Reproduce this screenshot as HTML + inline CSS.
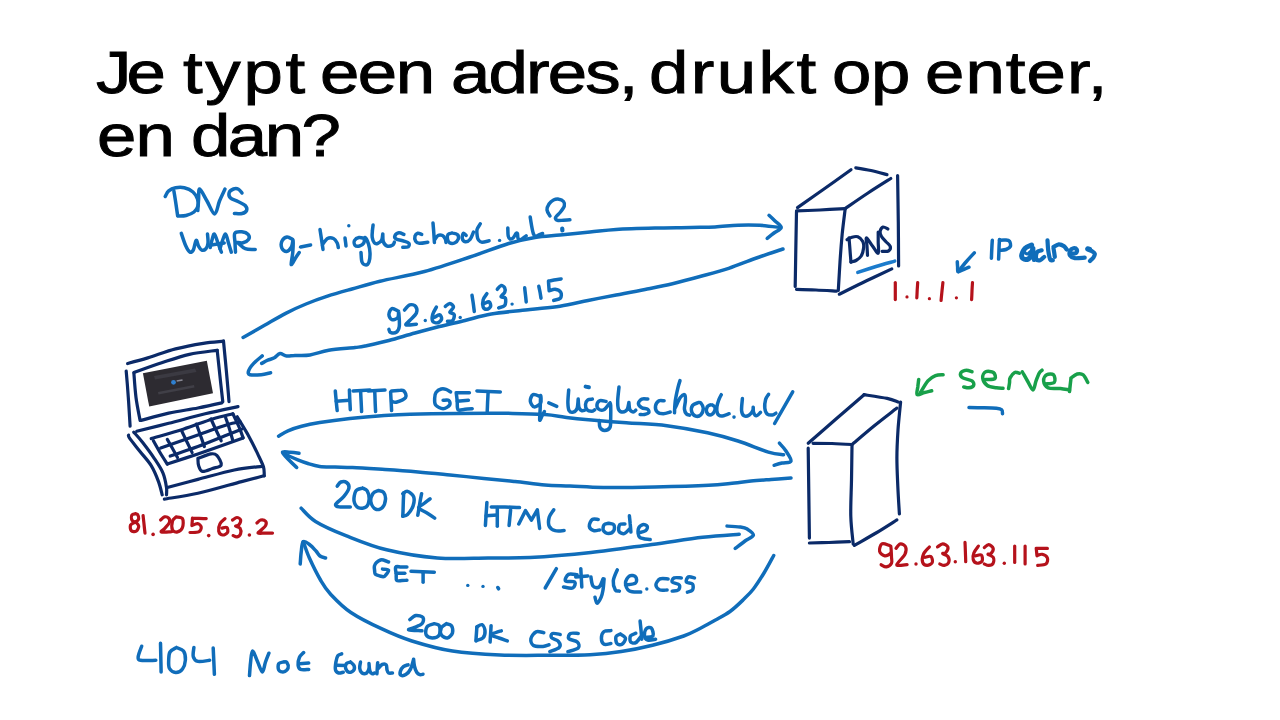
<!DOCTYPE html>
<html><head><meta charset="utf-8"><style>
html,body{margin:0;padding:0;background:#fff;}
#s{position:relative;width:1280px;height:720px;overflow:hidden;background:#fff;}
.w{position:absolute;font-family:"Liberation Sans",sans-serif;font-weight:normal;font-size:59px;line-height:59px;white-space:nowrap;color:#000;-webkit-text-stroke:0.9px #000;transform:scaleX(1.2);transform-origin:0 0;}
svg{position:absolute;left:0;top:0;}
.b{fill:none;stroke:#106dba;stroke-width:3.5;stroke-linecap:round;stroke-linejoin:round;}
.n{fill:none;stroke:#0b2a68;stroke-width:3.2;stroke-linecap:round;stroke-linejoin:round;}
.r{fill:none;stroke:#b5121b;stroke-width:3.2;stroke-linecap:round;stroke-linejoin:round;}
.g{fill:none;stroke:#18a04a;stroke-width:3.5;stroke-linecap:round;stroke-linejoin:round;}
</style></head><body><div id="s">
<span class="w" style="left:95.8px;top:44.0px;letter-spacing:-4.00px">Je</span>
<span class="w" style="left:182.5px;top:44.0px;letter-spacing:2.22px">typt</span>
<span class="w" style="left:320.1px;top:44.0px;letter-spacing:-1.29px">een</span>
<span class="w" style="left:450.6px;top:44.0px;letter-spacing:-1.57px">adres,</span>
<span class="w" style="left:648.6px;top:44.0px;letter-spacing:2.02px">drukt</span>
<span class="w" style="left:831.6px;top:44.0px;letter-spacing:-0.33px">op</span>
<span class="w" style="left:925.1px;top:44.0px;letter-spacing:0.88px">enter,</span>
<span class="w" style="left:97.1px;top:106.9px;letter-spacing:-0.83px">en</span>
<span class="w" style="left:190.6px;top:106.9px;letter-spacing:-2.11px">dan?</span>
<svg width="1280" height="720" viewBox="0 0 1280 720">
<path class="b" d="M165.2,196.5C165.8,195.6 167.0,192.3 168.7,190.9C170.4,189.5 173.0,188.3 175.6,187.8C178.2,187.3 181.4,187.1 184.3,187.8C187.2,188.5 190.8,190.1 193.0,192.0C195.2,193.9 196.7,196.7 197.5,199.0C198.3,201.3 198.6,203.8 198.0,206.0C197.4,208.2 196.0,210.4 194.0,212.0C192.0,213.6 188.7,214.8 186.0,215.5C183.3,216.2 179.3,215.9 178.0,216.0"/>
<path class="b" d="M173.9,190.9C174.2,192.9 175.2,198.9 175.8,203.0C176.4,207.1 177.3,213.4 177.6,215.5"/>
<path class="b" d="M197.8,210.6C197.9,208.7 198.3,202.6 198.6,199.0C198.9,195.4 198.3,188.7 199.7,189.0C201.1,189.3 204.5,196.8 207.0,201.0C209.5,205.2 212.6,214.0 214.7,214.0C216.8,214.0 217.8,205.2 219.5,201.0C221.2,196.8 224.1,191.0 225.0,189.0"/>
<path class="b" d="M242.0,193.0C241.4,192.4 239.9,189.9 238.5,189.2C237.1,188.5 235.1,188.4 233.5,189.0C231.9,189.6 229.7,191.0 229.2,192.5C228.7,194.0 229.0,196.5 230.5,198.0C232.0,199.5 235.6,200.2 238.0,201.5C240.4,202.8 243.8,204.0 245.2,205.5C246.6,207.0 247.1,209.2 246.6,210.5C246.1,211.8 244.0,213.0 242.0,213.5C240.0,214.0 235.7,213.4 234.4,213.4"/>
<path class="b" d="M181.3,233.3C182.0,235.3 184.1,242.1 185.5,245.2C186.9,248.3 188.5,251.2 189.8,252.0C191.1,252.8 192.2,251.9 193.3,250.0C194.4,248.1 195.2,241.0 196.1,240.3C197.0,239.6 197.6,244.4 198.5,246.0C199.4,247.6 200.5,249.7 201.7,250.1C202.9,250.5 204.8,249.9 205.9,248.7C207.0,247.5 207.7,245.5 208.0,243.1C208.3,240.7 207.6,235.5 207.5,234.0"/>
<path class="b" d="M210.2,247.5C210.5,246.2 211.3,242.2 212.0,240.0C212.7,237.8 213.4,233.5 214.4,234.0C215.4,234.5 216.8,240.0 218.0,243.0C219.2,246.0 220.8,250.7 221.4,252.2"/>
<path class="b" d="M209.5,245.2 L224.2,243.1"/>
<path class="b" d="M220.0,248.7C220.4,247.3 221.6,242.9 222.5,240.5C223.4,238.1 224.6,233.6 225.6,234.0C226.6,234.4 227.6,240.0 228.5,243.0C229.4,246.0 230.8,250.7 231.3,252.2"/>
<path class="b" d="M235.5,252.2C235.4,250.6 235.1,245.7 235.0,242.5C234.9,239.3 233.7,235.1 234.8,233.3C235.9,231.5 239.6,231.6 241.8,231.8C244.1,232.0 247.2,233.4 248.3,234.7C249.4,236.0 249.4,238.2 248.5,239.5C247.6,240.8 244.9,242.3 243.0,242.8C241.1,243.3 238.0,242.5 237.0,242.4"/>
<path class="b" d="M238.3,243.1C239.5,244.0 242.5,247.6 245.3,248.7C248.1,249.8 253.5,249.3 255.2,249.4"/>
<path class="b" d="M292.5,239.4C291.6,239.0 288.8,236.7 287.0,237.0C285.2,237.3 282.9,239.2 282.0,241.0C281.1,242.8 281.1,246.2 281.8,248.0C282.6,249.8 284.9,251.7 286.5,251.5C288.1,251.3 290.4,248.9 291.5,247.0C292.6,245.1 292.8,239.2 293.0,240.0C293.2,240.8 293.1,247.9 292.8,252.0C292.5,256.1 290.8,263.5 291.2,264.5C291.6,265.5 294.2,260.0 295.5,258.0C296.8,256.0 298.6,253.4 299.2,252.5"/>
<path class="b" d="M300.6,247.0 L310.6,245.0"/>
<path class="b" d="M320.0,229.4C320.3,231.2 321.1,236.7 321.6,240.0C322.1,243.3 322.8,247.8 323.0,249.4M322.2,245.0C323.1,243.9 325.6,239.6 327.5,238.5C329.4,237.4 331.9,237.8 333.5,238.5C335.1,239.2 336.4,241.5 337.2,243.0C338.0,244.5 338.1,246.8 338.3,247.5"/>
<path class="b" d="M345.0,238.0C345.1,238.8 345.4,241.2 345.6,242.5C345.8,243.8 345.9,245.4 346.0,246.0"/>
<circle cx="348.8" cy="225.8" r="1.7" fill="#106dba"/>
<path class="b" d="M364.5,238.5C363.6,238.3 360.7,237.2 359.0,237.5C357.3,237.8 355.2,239.2 354.5,240.5C353.8,241.8 354.2,244.4 355.0,245.3C355.8,246.2 358.0,246.4 359.5,246.0C361.0,245.6 362.9,244.4 363.8,243.0C364.7,241.6 364.2,237.3 365.0,237.5C365.8,237.7 367.7,241.4 368.5,244.0C369.3,246.6 369.9,250.0 370.0,253.0C370.1,256.0 369.7,260.0 369.0,262.0C368.3,264.0 367.2,265.0 366.0,265.0C364.8,265.0 362.8,264.1 362.0,262.0C361.2,259.9 361.2,254.1 361.0,252.5"/>
<path class="b" d="M373.1,225.0C373.0,226.0 372.5,229.0 372.4,231.0C372.2,233.0 371.9,235.2 372.2,237.2C372.5,239.2 373.5,241.8 374.4,242.8C375.3,243.8 376.6,243.8 377.8,243.3C379.0,242.8 380.9,241.6 381.7,240.0C382.5,238.4 382.6,234.9 382.8,233.9M382.8,233.9C382.9,235.2 382.6,239.7 383.3,241.7C384.0,243.7 385.6,245.5 387.2,246.1C388.8,246.7 391.6,245.7 392.8,245.0C394.0,244.3 394.1,242.7 394.4,242.2"/>
<path class="b" d="M403.9,234.4C403.1,234.1 400.4,232.6 398.9,232.8C397.4,233.0 395.5,234.6 395.0,235.6C394.5,236.6 394.6,238.0 396.1,238.9C397.6,239.8 401.8,240.4 403.9,241.1C406.0,241.8 408.2,242.4 408.9,243.3C409.6,244.2 409.3,246.0 408.3,246.7C407.3,247.3 403.7,247.1 402.8,247.2"/>
<path class="b" d="M421.7,234.4C421.1,234.2 418.9,233.0 417.8,233.3C416.7,233.6 415.4,234.8 415.0,236.1C414.6,237.4 414.9,239.9 415.6,241.1C416.3,242.3 417.4,243.1 419.4,243.3C421.4,243.5 426.4,242.4 427.8,242.2"/>
<path class="b" d="M433.0,223.0C433.1,224.7 433.6,229.8 433.8,233.0C434.0,236.2 434.3,240.9 434.4,242.5M434.5,240.0C435.1,239.2 436.7,236.2 438.0,235.5C439.3,234.8 441.3,234.9 442.5,235.5C443.7,236.1 444.7,237.8 445.3,239.0C445.9,240.2 445.9,241.9 446.0,242.5"/>
<path class="b" d="M452.0,233.0C451.3,233.2 448.8,233.5 448.0,234.5C447.2,235.5 447.2,237.6 447.5,239.0C447.8,240.4 448.3,242.1 449.5,242.8C450.7,243.5 453.0,243.6 454.5,243.0C456.0,242.4 457.8,240.4 458.3,239.0C458.8,237.6 458.4,235.5 457.3,234.5C456.2,233.5 452.9,233.2 452.0,233.0"/>
<path class="b" d="M466.2,235.4C465.7,235.1 463.9,232.9 463.3,233.4C462.7,233.9 462.0,236.9 462.3,238.3C462.6,239.7 464.0,241.5 465.3,241.7C466.6,241.9 468.7,240.9 470.1,239.3C471.5,237.7 472.9,233.2 473.5,232.0"/>
<path class="b" d="M480.3,223.8C479.8,224.8 477.5,227.6 477.0,229.6C476.5,231.6 476.9,234.3 477.2,236.0C477.4,237.7 477.7,239.0 478.5,240.0C479.3,241.0 480.2,242.1 482.0,242.2C483.8,242.3 487.9,241.0 489.1,240.8"/>
<circle cx="499.6" cy="240.4" r="1.7" fill="#106dba"/>
<path class="b" d="M507.8,228.0C507.9,229.3 507.8,234.0 508.2,235.8C508.6,237.6 509.2,238.7 510.1,239.0C511.0,239.3 512.3,238.6 513.3,237.7C514.3,236.8 515.3,234.2 516.0,233.5C516.7,232.8 517.1,232.8 517.4,233.5C517.7,234.2 517.6,236.6 517.9,237.7C518.2,238.8 518.5,239.8 519.2,240.0C519.9,240.2 520.9,239.7 522.0,239.0C523.1,238.3 525.4,236.3 526.1,235.8"/>
<path class="b" d="M530.2,217.0C530.4,218.4 531.1,222.9 531.6,225.7C532.1,228.5 532.8,232.2 533.5,234.0C534.2,235.8 534.8,236.2 535.7,236.3C536.6,236.5 537.9,235.4 539.0,234.9C540.1,234.4 542.0,233.7 542.6,233.5"/>
<path class="b" d="M550.0,216.0C549.5,215.0 547.2,212.0 547.0,210.0C546.8,208.0 547.9,205.7 549.0,204.0C550.1,202.3 551.8,200.8 553.5,200.0C555.2,199.2 557.3,198.9 559.0,199.2C560.7,199.4 562.6,200.4 563.5,201.5C564.4,202.6 564.8,204.2 564.3,206.0C563.8,207.8 562.0,210.1 560.5,212.0C559.0,213.9 556.0,216.1 555.5,217.5C555.0,218.9 556.3,220.0 557.6,220.4C558.9,220.8 561.5,220.3 563.5,220.2C565.5,220.1 568.8,219.9 569.9,219.8"/>
<path class="b" style="stroke-width:4.2" d="M562.2,228.5L562.4,230.5"/>
<path class="b" d="M243.1,337.5C246.8,335.4 257.8,329.1 265.0,325.0C272.2,320.9 279.4,316.6 286.2,313.1C293.0,309.6 299.1,306.8 306.0,304.0C312.9,301.2 319.8,298.7 327.5,296.2C335.2,293.7 343.2,291.5 352.0,289.0C360.8,286.5 367.9,284.1 380.0,281.2C392.1,278.3 409.5,275.5 424.5,271.5C439.5,267.5 456.0,261.7 470.0,257.0C484.0,252.3 497.9,246.8 508.7,243.5C519.5,240.2 526.5,238.9 535.0,237.5C543.5,236.1 550.8,235.9 560.0,235.0C569.2,234.1 580.7,232.9 590.0,232.0C599.3,231.1 605.2,230.1 616.0,229.4C626.8,228.7 642.5,228.3 655.0,228.0C667.5,227.7 681.0,227.7 691.0,227.5C701.0,227.3 707.2,227.4 715.0,227.0C722.8,226.6 730.5,225.5 738.0,225.2C745.5,224.9 753.0,224.9 760.0,225.3C767.0,225.7 776.9,227.1 780.3,227.5"/>
<path class="b" d="M769.0,215.3C770.0,216.2 773.0,219.0 775.0,221.0C777.0,223.0 781.4,225.5 781.2,227.5C781.0,229.5 776.3,231.2 774.0,233.0C771.7,234.8 768.3,237.5 767.2,238.4"/>
<path class="b" d="M783.0,249.0C778.3,250.6 764.0,255.3 755.0,258.5C746.0,261.7 737.9,265.3 728.7,268.3C719.5,271.3 709.4,273.9 700.0,276.5C690.6,279.1 681.7,281.5 672.5,283.7C663.3,285.9 654.4,287.6 645.0,289.5C635.6,291.4 625.7,293.2 616.2,295.0C606.7,296.8 597.4,298.6 588.0,300.5C578.6,302.4 569.7,304.7 560.0,306.2C550.3,307.7 541.5,308.2 530.0,309.5C518.5,310.8 502.1,312.2 491.3,314.0C480.5,315.8 473.6,318.4 465.0,320.5C456.4,322.6 447.7,324.4 439.4,326.5C431.1,328.6 423.4,330.7 415.0,333.0C406.6,335.3 397.2,338.3 388.9,340.5C380.6,342.7 370.6,344.8 365.0,346.0C359.4,347.2 361.1,346.8 355.0,347.5C348.9,348.2 336.2,349.1 328.7,350.3C321.2,351.6 315.6,354.1 310.0,355.0C304.4,355.9 298.9,355.3 295.0,355.5C291.1,355.7 289.1,356.3 286.6,356.0C284.1,355.7 282.0,353.3 280.0,353.6C278.0,353.9 276.4,356.7 274.4,357.8C272.4,358.9 269.9,359.3 267.8,360.2C265.7,361.1 262.7,362.9 261.7,363.4"/>
<path class="b" d="M262.2,355.9C260.8,357.1 256.0,360.9 253.7,363.4C251.4,365.9 249.2,369.0 248.6,370.9C248.0,372.8 247.9,374.1 250.0,374.7C252.1,375.3 257.8,375.0 261.2,374.7C264.6,374.4 269.0,373.1 270.6,372.8"/>
<path class="b" d="M397.8,310.8C396.8,310.4 393.4,308.0 391.9,308.6C390.4,309.2 388.9,312.6 388.9,314.5C388.9,316.4 390.4,319.2 391.9,319.7C393.4,320.2 396.7,318.9 397.8,317.5C398.9,316.1 398.4,310.1 398.6,311.6C398.9,313.1 399.7,322.9 399.3,326.4C398.9,329.8 397.8,331.3 396.3,332.3C394.8,333.3 391.6,332.8 390.4,332.3C389.2,331.8 389.1,329.9 388.9,329.4"/>
<path class="b" d="M404.5,310.1C405.4,309.2 407.8,305.5 409.7,304.9C411.6,304.3 414.5,305.0 415.6,306.4C416.7,307.8 417.4,310.6 416.4,313.0C415.4,315.4 411.4,318.5 409.7,320.5C408.0,322.5 404.9,324.3 406.0,324.9C407.1,325.5 414.7,324.3 416.4,324.2"/>
<circle cx="425.3" cy="320.5" r="1.7" fill="#106dba"/>
<path class="b" d="M436.4,307.1C435.8,308.3 433.3,312.1 432.7,314.5C432.1,316.9 431.8,319.8 432.7,321.2C433.6,322.6 436.4,323.1 437.9,322.7C439.4,322.3 441.3,320.3 441.6,319.0C441.9,317.7 440.7,315.1 439.5,314.8C438.3,314.6 435.1,317.1 434.2,317.5"/>
<path class="b" d="M445.3,306.4C446.1,305.9 448.4,303.3 449.8,303.4C451.2,303.5 453.5,305.6 453.5,307.1C453.5,308.6 449.7,311.1 449.8,312.3C449.9,313.5 453.7,313.1 454.2,314.5C454.7,315.9 453.8,319.4 452.7,320.5C451.6,321.6 448.4,321.1 447.5,321.2"/>
<circle cx="460.2" cy="317.5" r="1.7" fill="#106dba"/>
<path class="b" d="M472.0,295.2C472.2,296.5 472.8,300.3 473.2,303.0C473.6,305.7 474.1,310.2 474.3,311.6"/>
<path class="b" d="M486.9,293.7C486.3,294.7 483.8,297.5 483.2,299.7C482.6,301.9 482.6,305.5 483.2,307.1C483.8,308.7 485.7,309.4 486.9,309.3C488.1,309.2 490.2,307.6 490.6,306.4C491.0,305.2 490.1,302.4 489.1,301.9C488.1,301.4 485.4,303.1 484.6,303.4"/>
<path class="b" d="M497.3,289.3C497.9,288.7 499.8,285.9 501.0,285.6C502.2,285.4 504.1,286.7 504.7,287.8C505.3,288.9 505.3,290.8 504.7,292.3C504.1,293.8 500.9,295.7 501.0,296.7C501.1,297.7 504.8,296.7 505.4,298.2C506.0,299.7 505.8,304.0 504.7,305.6C503.6,307.2 499.7,307.5 498.7,307.9"/>
<circle cx="512.1" cy="304.1" r="1.7" fill="#106dba"/>
<path class="b" d="M524.7,287.8C524.8,289.0 525.2,292.6 525.5,295.0C525.8,297.4 526.1,300.8 526.2,301.9"/>
<path class="b" d="M538.8,286.3C539.0,287.2 539.6,290.0 540.0,292.0C540.4,294.0 540.8,297.2 541.0,298.2"/>
<path class="b" d="M561.1,278.9C559.9,279.1 556.1,279.6 554.0,280.0C551.9,280.4 549.4,280.9 548.5,281.1M548.5,281.1C548.5,281.9 548.7,284.4 548.8,286.0C548.9,287.6 549.1,290.0 549.2,290.8M549.2,290.8C550.2,290.6 553.2,289.1 555.1,289.3C557.0,289.6 559.9,290.8 560.8,292.3C561.7,293.8 561.5,296.9 560.3,298.2C559.1,299.5 554.8,300.0 553.7,300.4"/>
<path class="n" d="M797.5,207.6C801.9,204.5 815.1,195.3 824.0,189.0C832.9,182.7 846.5,172.9 851.0,169.7"/>
<path class="n" d="M855.8,167.8C858.3,168.2 865.8,169.4 871.0,170.5C876.2,171.6 884.3,173.9 887.0,174.6"/>
<path class="n" d="M845.1,208.6C848.9,206.0 860.4,198.0 868.0,193.0C875.6,188.0 887.0,180.9 890.8,178.5"/>
<path class="n" d="M796.5,210.9C800.4,210.8 811.9,210.4 820.0,210.0C828.1,209.6 840.9,208.8 845.1,208.6"/>
<path class="n" d="M796.5,211.5C796.4,217.9 796.0,237.5 795.8,250.0C795.6,262.5 795.3,280.3 795.2,286.4"/>
<path class="n" d="M796.5,289.3C799.8,289.4 809.4,289.7 816.0,290.0C822.6,290.3 833.0,291.0 836.4,291.2"/>
<path class="n" d="M845.1,209.6C844.6,213.7 843.1,225.2 842.2,233.9C841.4,242.6 840.6,252.6 840.0,262.0C839.4,271.4 838.6,285.6 838.3,290.3"/>
<path class="n" d="M897.6,175.6C897.7,183.3 898.1,206.9 898.3,222.0C898.5,237.1 898.5,258.7 898.6,266.0"/>
<path class="n" d="M839.3,294.2C843.8,292.0 857.2,285.2 866.0,281.0C874.8,276.8 887.5,270.9 891.8,268.9"/>
<path class="n" d="M849.0,237.8C849.2,239.8 849.7,245.9 850.0,250.0C850.3,254.1 850.8,260.1 851.0,262.1"/>
<path class="n" d="M847.1,239.7C847.9,239.3 850.2,237.7 852.0,237.2C853.8,236.7 856.0,236.1 857.8,236.8C859.6,237.5 861.8,239.6 862.8,241.5C863.8,243.4 863.9,245.6 863.6,248.0C863.3,250.4 862.5,253.9 861.2,256.0C859.9,258.1 857.7,259.5 856.0,260.5C854.3,261.5 851.8,261.8 851.0,262.1"/>
<path class="n" d="M867.5,255.3C867.4,253.8 867.2,248.9 867.0,246.0C866.8,243.1 865.6,237.8 866.5,237.8C867.4,237.8 870.5,243.4 872.5,246.0C874.5,248.6 877.2,254.0 878.2,253.3C879.2,252.6 878.2,245.6 878.2,242.0C878.2,238.4 878.2,233.7 878.2,232.0"/>
<path class="n" d="M887.9,229.0C887.1,228.7 884.3,226.7 883.0,227.1C881.7,227.5 880.4,229.9 880.1,231.5C879.9,233.1 880.5,234.8 881.5,236.5C882.5,238.2 884.5,240.0 886.0,241.7C887.5,243.4 889.9,244.9 890.3,246.5C890.7,248.1 889.9,250.2 888.5,251.0C887.1,251.8 883.2,251.3 882.1,251.4"/>
<path class="b" style="stroke:#1b7bcc" d="M857.8,272.4C860.8,271.4 869.9,268.4 876.0,266.5C882.1,264.6 891.6,262.0 894.7,261.1"/>
<path class="r" d="M895.3,282.5C895.3,283.9 895.3,288.1 895.3,291.0C895.3,293.9 895.3,298.2 895.3,299.6"/>
<path class="r" d="M917.7,282.5C917.6,283.8 917.4,287.4 917.2,290.0C917.1,292.6 916.9,296.5 916.8,297.8"/>
<path class="r" d="M942.9,282.5C942.8,283.9 942.3,288.0 942.0,291.0C941.7,294.0 941.2,298.9 941.1,300.5"/>
<path class="r" d="M972.5,282.5C972.4,283.9 972.1,288.1 972.0,291.0C971.9,293.9 971.7,298.2 971.6,299.6"/>
<circle cx="907" cy="296.9" r="1.6" fill="#b5121b"/>
<circle cx="929.4" cy="298.7" r="1.6" fill="#b5121b"/>
<circle cx="956.4" cy="297.8" r="1.6" fill="#b5121b"/>
<path class="b" d="M974.3,252.9C972.9,254.4 968.7,258.9 966.0,262.0C963.3,265.1 959.5,270.1 958.2,271.7"/>
<path class="b" d="M957.3,261.8C957.3,262.7 957.5,265.4 957.6,267.0C957.8,268.6 957.2,271.3 958.2,271.7C959.2,272.1 961.7,270.2 963.5,269.5C965.3,268.8 968.1,267.6 969.0,267.2"/>
<path class="b" d="M992.3,240.3C992.2,241.8 991.9,246.0 991.8,249.0C991.6,252.0 991.5,256.7 991.4,258.2"/>
<path class="b" d="M999.5,239.4C999.4,241.0 999.1,245.7 999.0,249.0C998.9,252.3 998.7,257.4 998.6,259.1"/>
<path class="b" d="M999.5,240.3C1000.4,240.2 1003.4,239.8 1005.0,240.0C1006.6,240.2 1008.5,240.1 1009.4,241.2C1010.3,242.3 1010.9,245.1 1010.3,246.5C1009.7,247.9 1007.6,248.9 1006.0,249.5C1004.4,250.1 1001.3,250.1 1000.4,250.2"/>
<path class="b" style="stroke-width:5" d="M1031.6,245.0C1030.5,245.6 1026.7,246.4 1025.0,248.3C1023.3,250.2 1021.5,254.3 1021.6,256.2C1021.7,258.1 1024.1,259.5 1025.6,259.6C1027.0,259.7 1029.1,258.8 1030.3,256.9C1031.5,255.0 1032.5,249.7 1032.9,248.3M1032.9,249.6C1033.0,250.5 1033.4,253.3 1033.6,255.0C1033.8,256.7 1034.2,258.8 1034.3,259.6"/>
<path class="b" style="stroke-width:3" d="M1023.5,251.0C1024.1,251.5 1025.8,253.9 1027.0,254.0C1028.2,254.1 1029.9,251.9 1030.5,251.5"/>
<path class="b" style="stroke-width:4.2" d="M1041.6,250.3C1040.8,250.6 1037.8,250.9 1036.9,252.3C1036.0,253.7 1035.7,257.6 1036.2,258.9C1036.8,260.2 1038.9,260.5 1040.2,260.2C1041.5,259.9 1043.5,257.4 1044.2,256.9M1047.5,240.3C1047.6,242.0 1047.8,247.1 1048.2,250.3C1048.7,253.5 1049.4,258.0 1050.2,259.6C1051.0,261.2 1052.4,260.1 1052.8,260.2"/>
<path class="b" style="stroke-width:4.2" d="M1053.5,248.3C1053.6,249.0 1054.0,251.1 1054.2,252.5C1054.4,253.9 1054.7,256.2 1054.8,256.9M1053.5,247.0C1054.4,246.6 1057.0,244.4 1058.8,244.3C1060.6,244.2 1062.8,245.4 1064.1,246.3C1065.4,247.2 1066.3,249.1 1066.8,249.6"/>
<path class="b" style="stroke-width:4.2" d="M1070.1,253.6C1071.1,253.5 1075.0,253.6 1076.1,252.9C1077.2,252.2 1077.2,250.4 1076.8,249.6C1076.3,248.8 1074.5,248.1 1073.4,248.3C1072.3,248.5 1070.6,249.7 1070.1,250.9C1069.5,252.1 1069.3,254.4 1070.1,255.6C1070.9,256.8 1072.4,257.9 1074.8,258.2C1077.2,258.5 1083.0,257.7 1084.7,257.6"/>
<path class="b" style="stroke-width:4.2" d="M1090.0,249.0C1089.7,248.9 1088.4,248.2 1088.0,248.3C1087.6,248.4 1086.8,248.9 1087.4,249.3C1088.0,249.7 1090.2,250.2 1091.4,250.9C1092.6,251.6 1094.4,252.5 1094.7,253.6C1095.0,254.7 1094.2,256.4 1093.4,257.6C1092.6,258.8 1090.6,260.3 1090.0,260.9"/>
<path class="g" d="M943.1,374.8C941.8,374.9 938.0,374.6 935.5,375.6C933.0,376.6 930.4,378.0 927.9,380.9C925.4,383.8 921.5,391.1 920.2,393.1"/>
<path class="g" d="M918.7,379.4C918.6,380.7 918.0,384.5 917.8,387.0C917.5,389.5 916.1,393.7 917.2,394.6C918.3,395.5 922.1,393.1 924.5,392.5C926.9,391.9 930.5,391.1 931.7,390.8"/>
<path class="g" d="M972.0,371.8C971.0,371.5 967.8,369.9 965.9,370.2C964.0,370.4 961.1,372.0 960.6,373.3C960.1,374.6 961.0,376.6 962.9,377.9C964.8,379.2 970.2,379.6 972.0,380.9C973.8,382.2 974.1,384.4 973.6,385.5C973.1,386.6 970.6,387.6 969.0,387.8C967.4,388.1 964.6,387.1 963.7,387.0"/>
<path class="g" d="M985.7,379.4C987.2,379.3 993.6,379.8 994.9,378.6C996.2,377.5 994.9,373.6 993.4,372.5C991.9,371.4 987.5,370.9 985.7,371.8C983.9,372.7 982.4,375.6 982.7,377.9C983.0,380.2 985.0,383.9 987.3,385.5C989.6,387.1 993.8,387.3 996.4,387.8C999.0,388.3 1001.9,388.2 1003.0,388.3"/>
<path class="g" d="M1008.6,388.5C1008.8,387.6 1009.2,384.8 1009.5,383.0C1009.8,381.2 1009.2,379.6 1010.1,377.9C1011.0,376.1 1013.2,373.3 1014.7,372.5C1016.2,371.7 1018.5,373.2 1019.3,373.3"/>
<path class="g" d="M1022.3,371.8C1023.2,373.3 1025.7,378.0 1027.5,381.0C1029.3,384.0 1031.6,390.0 1033.0,390.0C1034.4,390.0 1035.0,383.8 1036.0,381.0C1037.0,378.2 1038.1,375.1 1039.1,373.3C1040.1,371.5 1041.6,370.7 1042.1,370.2"/>
<path class="g" d="M1045.2,384.0C1046.7,383.7 1052.9,383.9 1054.3,382.4C1055.7,380.9 1054.8,376.1 1053.5,374.8C1052.2,373.5 1048.4,373.8 1046.7,374.8C1045.0,375.8 1043.3,378.7 1043.6,380.9C1043.8,383.1 1045.4,386.5 1048.2,387.8C1051.0,389.1 1056.9,388.1 1060.4,388.5C1064.0,388.9 1068.0,389.8 1069.5,390.0"/>
<path class="g" d="M1069.5,391.6C1069.6,390.5 1070.0,387.3 1070.2,385.0C1070.5,382.7 1070.9,379.1 1071.0,377.9M1071.0,377.9C1072.0,377.2 1075.2,374.5 1077.2,374.0C1079.2,373.5 1081.4,373.4 1083.2,374.8C1085.0,376.2 1087.0,381.1 1087.8,382.4"/>
<path class="b" d="M969.0,407.6C971.3,407.6 978.4,407.7 983.0,407.8C987.6,407.9 993.3,408.0 996.4,408.3C999.5,408.6 1000.7,408.9 1001.7,409.8C1002.7,410.7 1002.4,413.1 1002.5,413.7"/>
<path class="n" d="M808.2,443.3C812.8,439.2 826.7,427.1 836.0,419.0C845.3,410.9 859.4,398.8 864.1,394.7"/>
<path class="n" d="M864.1,394.7C868.0,395.3 881.5,397.2 887.2,398.4C892.9,399.6 896.3,401.4 898.1,402.0"/>
<path class="n" d="M852.0,444.5C855.7,441.4 866.5,432.1 874.0,426.0C881.5,419.9 893.1,411.1 896.9,408.1"/>
<path class="n" d="M813.1,443.3C816.2,443.3 825.5,443.3 832.0,443.5C838.5,443.7 848.7,444.3 852.0,444.5"/>
<path class="n" d="M808.2,448.2C808.3,455.7 808.6,478.0 808.8,493.0C809.0,508.0 809.3,530.6 809.4,538.1"/>
<path class="n" d="M809.4,543.0C812.7,542.9 822.3,542.7 829.0,542.5C835.7,542.3 846.1,541.8 849.5,541.7"/>
<path class="n" d="M852.0,445.8C851.9,451.5 851.7,468.3 851.5,480.0C851.3,491.7 850.5,505.5 850.8,516.2C851.1,526.9 852.8,539.5 853.2,544.2"/>
<path class="n" d="M900.6,402.0C900.2,406.7 898.6,420.7 898.0,430.0C897.4,439.3 896.9,448.6 896.9,457.9C896.9,467.2 897.4,476.7 897.8,486.0C898.2,495.3 899.1,509.2 899.4,513.8"/>
<path class="n" d="M854.4,545.4C858.0,543.3 868.9,537.2 876.0,533.0C883.1,528.8 893.4,522.1 896.9,519.9"/>
<path class="r" d="M889.3,545.4C888.1,545.1 883.5,542.9 881.9,543.9C880.3,544.9 879.1,549.3 879.6,551.3C880.1,553.3 882.9,555.5 884.8,555.8C886.7,556.0 889.8,554.4 890.8,552.8C891.8,551.2 890.8,547.2 890.8,546.1M891.2,549.8C891.2,551.0 891.5,554.8 891.5,557.0C891.5,559.2 892.4,561.6 891.5,563.2C890.6,564.9 888.0,566.6 886.3,566.9C884.6,567.1 882.0,565.1 881.1,564.7"/>
<path class="r" d="M896.0,548.4C896.7,547.6 898.8,544.1 900.4,543.9C902.0,543.6 904.9,545.2 905.6,546.9C906.4,548.6 906.1,551.7 904.9,554.3C903.7,556.9 899.4,560.6 898.2,562.5C897.0,564.4 896.0,565.0 897.5,565.4C899.0,565.8 905.5,564.8 907.1,564.7"/>
<circle cx="916" cy="564" r="1.7" fill="#b5121b"/>
<path class="r" d="M929.4,546.9C928.4,548.1 924.5,551.7 923.4,554.3C922.3,556.9 922.1,560.6 922.7,562.5C923.3,564.4 925.5,565.4 927.1,565.4C928.7,565.4 931.7,564.0 932.3,562.5C932.9,561.0 932.1,557.4 930.9,556.5C929.7,555.6 925.9,557.2 924.9,557.3"/>
<path class="r" d="M937.5,546.9C938.4,546.4 941.0,543.9 942.7,543.9C944.4,543.9 947.4,545.4 947.9,546.9C948.4,548.4 946.6,551.7 945.7,552.8C944.8,553.9 942.3,553.0 942.7,553.6C943.1,554.2 946.9,555.0 947.9,556.5C948.9,558.0 949.3,561.0 948.7,562.5C948.1,564.0 945.7,565.1 944.2,565.4C942.7,565.6 940.5,564.2 939.8,564.0"/>
<circle cx="955.3" cy="561.7" r="1.7" fill="#b5121b"/>
<path class="r" d="M965.0,542.4C965.1,544.0 965.3,548.8 965.4,552.0C965.5,555.2 965.7,560.1 965.7,561.7"/>
<path class="r" d="M978.4,546.1C977.6,547.2 974.8,550.6 973.9,552.8C973.0,555.0 972.7,557.8 973.2,559.5C973.7,561.2 975.4,563.0 976.9,563.2C978.4,563.5 981.4,562.4 982.1,561.0C982.8,559.6 982.4,555.9 981.3,555.0C980.2,554.1 976.4,555.7 975.4,555.8"/>
<path class="r" d="M984.3,547.6C985.0,547.1 987.2,544.5 988.7,544.6C990.2,544.7 992.8,546.9 993.2,548.4C993.6,549.9 991.9,552.6 991.0,553.6C990.1,554.6 987.6,553.7 988.0,554.3C988.4,554.9 992.3,555.8 993.2,557.3C994.1,558.8 994.0,561.9 993.2,563.2C992.5,564.6 990.2,565.3 988.7,565.4C987.2,565.5 985.0,564.2 984.3,564.0"/>
<circle cx="1004.3" cy="563.2" r="1.7" fill="#b5121b"/>
<path class="r" d="M1014.7,546.1C1014.7,547.4 1014.7,551.3 1014.7,554.0C1014.7,556.7 1014.7,561.1 1014.7,562.5"/>
<path class="r" d="M1025.1,546.1C1025.1,547.6 1025.1,552.0 1025.1,555.0C1025.1,558.0 1025.1,562.4 1025.1,563.9"/>
<path class="r" d="M1047.4,548.4C1046.5,548.4 1043.9,548.4 1042.0,548.4C1040.1,548.4 1037.2,548.4 1036.2,548.4M1036.2,548.4C1036.3,549.0 1036.5,550.8 1036.6,552.0C1036.7,553.2 1036.9,555.2 1037.0,555.8M1037.0,555.8C1037.9,555.5 1040.5,553.9 1042.2,554.3C1043.9,554.7 1046.8,556.4 1047.4,558.0C1048.0,559.6 1047.5,562.8 1045.9,564.0C1044.3,565.2 1039.1,565.2 1037.7,565.4"/>
<path class="b" d="M335.3,390.9C335.4,392.6 335.9,397.7 336.2,401.0C336.5,404.3 337.0,409.0 337.2,410.6"/>
<path class="b" d="M349.4,390.0C349.5,391.7 349.6,396.7 349.8,400.0C350.0,403.3 350.2,408.1 350.3,409.7"/>
<path class="b" d="M336.2,401.2 L349.4,400.3"/>
<path class="b" d="M353.1,390.9 L370.0,390.0"/>
<path class="b" d="M360.6,390.9C360.7,392.6 360.9,397.6 361.1,401.0C361.3,404.4 361.5,409.8 361.6,411.6"/>
<path class="b" d="M368.1,390.9 L385.0,390.0"/>
<path class="b" d="M374.7,390.9C374.8,392.6 375.0,397.6 375.1,401.0C375.2,404.4 375.5,409.8 375.6,411.6"/>
<path class="b" d="M390.6,391.9C390.7,393.4 390.9,397.9 391.1,401.0C391.3,404.1 391.5,409.0 391.6,410.6"/>
<path class="b" d="M391.6,390.9C392.7,390.8 396.0,390.5 398.0,390.5C400.0,390.5 402.5,389.7 403.8,390.9C405.1,392.1 406.9,395.6 405.6,397.5C404.3,399.4 398.5,401.6 396.2,402.2C393.9,402.8 392.4,401.4 391.6,401.2"/>
<path class="b" d="M450.6,391.9C449.8,391.5 447.6,389.8 446.0,389.3C444.4,388.8 442.9,388.5 441.2,389.0C439.5,389.5 437.1,391.0 436.0,392.5C434.9,394.0 434.8,395.9 434.7,398.0C434.6,400.1 434.2,403.2 435.6,405.0C437.0,406.8 440.8,408.7 443.1,408.7C445.5,408.7 448.8,406.4 449.7,405.0C450.6,403.6 449.8,401.1 448.7,400.3C447.6,399.5 444.0,400.3 443.1,400.3"/>
<path class="b" d="M469.4,392.8C468.2,392.8 464.2,392.8 462.0,392.8C459.8,392.8 457.2,392.8 456.2,392.8M456.2,392.8C456.4,394.2 456.9,398.2 457.2,401.0C457.5,403.8 456.8,408.3 458.1,409.7C459.4,411.1 462.6,409.5 465.0,409.3C467.4,409.1 471.0,408.8 472.2,408.7"/>
<path class="b" d="M457.2,401.2 L468.4,400.3"/>
<path class="b" d="M476.9,390.9 L500.3,391.9"/>
<path class="b" d="M488.1,392.8C488.0,394.3 487.8,398.9 487.6,402.0C487.5,405.1 487.3,410.0 487.2,411.6"/>
<path class="b" d="M540.6,396.6C539.4,396.3 534.8,393.9 533.1,394.7C531.4,395.5 530.1,399.2 530.3,401.2C530.5,403.2 532.4,406.6 534.1,406.9C535.8,407.2 539.5,405.0 540.6,403.1C541.7,401.2 540.7,394.8 540.6,395.6C540.5,396.4 540.4,403.9 540.2,408.0C540.1,412.1 539.4,418.7 539.7,420.0C540.0,421.3 541.2,417.4 542.0,416.0C542.8,414.6 544.0,412.3 544.4,411.6"/>
<path class="b" d="M548.8,402.9 L556.8,406.4"/>
<path class="b" d="M568.7,389.9C568.6,392.1 567.8,399.4 567.9,402.9C568.0,406.3 568.2,409.1 569.1,410.6C570.0,412.1 572.0,412.5 573.3,412.1C574.6,411.7 576.3,410.5 577.1,408.3C577.9,406.1 578.0,400.6 578.2,399.1M578.2,399.1C578.3,400.5 578.4,405.6 579.0,407.5C579.6,409.4 580.8,410.2 581.7,410.6C582.7,411.1 584.2,410.3 584.7,410.2"/>
<path class="b" style="stroke-width:4" d="M585.6,386.6L588.9,387.3"/>
<path class="b" d="M592.4,399.1C591.6,399.2 588.9,399.0 587.8,399.9C586.6,400.8 585.6,402.9 585.5,404.5C585.4,406.1 586.0,408.7 587.0,409.8C588.0,410.9 590.3,411.3 591.6,411.3C592.9,411.3 594.2,410.1 594.7,409.8"/>
<path class="b" d="M606.1,401.4C605.1,401.3 601.5,400.1 600.0,400.6C598.5,401.1 597.2,403.1 597.0,404.5C596.8,405.9 597.4,408.1 598.5,409.0C599.6,409.9 601.9,410.8 603.8,409.8C605.7,408.8 609.0,404.0 610.0,402.9M610.0,402.9C610.1,403.3 610.6,402.6 610.7,405.2C610.8,407.8 610.8,414.5 610.7,418.2C610.6,421.9 611.0,425.4 610.0,427.4C609.0,429.4 606.3,430.4 604.6,430.4C602.9,430.4 600.9,429.0 600.0,427.4C599.1,425.8 599.4,421.6 599.3,420.5"/>
<path class="b" d="M619.0,387.0C618.8,389.3 617.8,397.1 617.7,400.8C617.6,404.5 617.7,407.5 618.6,409.4C619.5,411.3 621.5,412.0 622.9,412.0C624.3,412.0 626.2,411.0 627.2,409.4C628.2,407.8 628.6,403.6 628.9,402.5M628.9,402.5C629.0,403.6 629.1,407.8 629.8,409.4C630.5,411.0 632.2,411.9 633.2,412.0C634.2,412.1 635.4,410.5 635.8,410.2"/>
<path class="b" d="M647.8,399.1C646.8,399.1 643.4,398.4 641.8,399.1C640.2,399.8 638.4,402.0 638.4,403.4C638.4,404.8 640.2,406.7 641.8,407.7C643.4,408.7 646.6,408.5 647.8,409.4C648.9,410.2 649.3,411.9 648.7,412.8C648.1,413.7 645.8,414.2 644.4,414.5C643.0,414.8 640.8,414.5 640.1,414.5"/>
<path class="b" d="M664.1,400.8C663.2,400.8 660.4,399.9 659.0,400.8C657.6,401.7 655.8,404.1 655.5,406.0C655.2,407.9 656.0,410.7 657.3,412.0C658.6,413.3 661.1,413.7 663.3,413.7C665.4,413.7 669.1,412.3 670.2,412.0"/>
<path class="b" d="M680.0,380.6C679.6,381.8 678.7,384.5 677.9,387.9C677.1,391.3 675.9,396.6 675.3,400.8C674.7,405.0 674.6,410.8 674.5,412.8M675.3,407.7C676.2,406.0 678.9,399.4 680.5,397.3C682.1,395.2 684.0,394.2 684.8,394.8C685.6,395.4 685.5,398.6 685.4,401.0C685.3,403.4 684.2,406.8 684.4,409.0C684.6,411.2 685.6,413.0 686.5,414.0C687.4,415.0 689.2,414.9 689.7,415.1"/>
<path class="b" d="M698.5,402.5C697.5,403.0 693.7,403.9 692.6,405.4C691.5,406.9 691.2,409.9 691.7,411.7C692.2,413.5 694.1,415.6 695.6,416.1C697.1,416.6 699.6,416.0 700.9,414.7C702.2,413.4 703.3,410.2 703.3,408.3C703.3,406.4 701.7,404.0 700.9,403.0C700.1,402.0 698.9,402.6 698.5,402.5"/>
<path class="b" d="M710.1,404.9C709.6,405.2 707.8,405.7 707.2,406.9C706.6,408.1 706.2,410.8 706.7,412.2C707.2,413.6 708.9,415.1 710.1,415.1C711.3,415.1 713.2,413.5 714.0,412.2C714.8,410.9 715.3,408.6 715.0,407.4C714.7,406.2 712.6,405.3 712.1,404.9"/>
<path class="b" d="M721.3,394.7C720.9,395.5 719.6,397.6 718.9,399.6C718.2,401.6 717.1,404.6 716.9,406.9C716.6,409.2 716.7,411.7 717.4,413.2C718.1,414.7 719.3,416.0 721.3,416.1C723.2,416.2 727.8,414.1 729.1,413.7"/>
<circle cx="734" cy="417.1" r="1.8" fill="#106dba"/>
<path class="b" d="M742.4,398.6C742.3,400.6 741.3,407.8 741.6,410.7C741.9,413.6 742.8,415.1 744.1,415.8C745.4,416.5 747.9,415.9 749.3,415.0C750.7,414.1 752.1,412.0 752.7,410.7C753.4,409.4 753.1,407.8 753.2,407.2M753.2,407.2C753.3,408.1 753.1,411.0 753.6,412.4C754.1,413.8 755.1,415.8 756.2,415.8C757.4,415.8 759.8,413.0 760.5,412.4"/>
<path class="b" d="M768.6,394.3C768.1,395.2 766.2,397.2 765.6,399.5C765.0,401.8 764.5,405.7 764.8,408.1C765.1,410.5 766.0,413.0 767.3,414.1C768.6,415.2 771.1,415.1 772.5,415.0C773.9,414.9 775.3,413.5 775.9,413.2"/>
<path class="b" d="M792.7,391.8 L774.6,423.5"/>
<path class="b" d="M278.6,436.2C280.2,435.3 284.2,432.4 288.0,430.8C291.8,429.2 296.3,427.7 301.6,426.3C306.9,424.9 311.6,423.9 319.7,422.6C327.8,421.3 339.8,419.7 350.0,418.6C360.2,417.5 371.2,416.5 381.2,415.8C391.2,415.1 397.5,414.6 410.0,414.2C422.5,413.8 439.1,413.5 456.2,413.4C473.3,413.3 497.7,413.2 512.5,413.4C527.3,413.6 536.2,413.9 545.0,414.5C553.8,415.1 558.2,416.3 565.0,417.2C571.8,418.1 575.4,418.7 585.6,419.6C595.8,420.5 612.8,421.7 626.3,422.7C639.8,423.7 653.4,424.0 666.9,425.7C680.4,427.4 695.6,430.2 707.5,432.8C719.4,435.4 727.9,437.8 738.0,441.0C748.1,444.2 760.8,449.8 768.4,452.1C776.0,454.4 781.1,454.4 783.6,454.8"/>
<path class="b" d="M779.4,443.2C780.5,444.5 784.1,448.0 786.0,451.0C787.9,454.0 791.7,459.1 791.0,461.1C790.3,463.1 784.8,462.3 782.0,463.0C779.2,463.7 775.4,464.9 774.1,465.3"/>
<path class="b" d="M791.0,478.0C787.7,478.2 777.7,479.0 771.0,479.5C764.3,480.0 757.8,480.4 751.0,481.1C744.2,481.8 737.0,482.8 730.0,483.5C723.0,484.2 721.2,484.7 708.7,485.3C696.2,485.9 672.6,486.6 655.0,487.0C637.4,487.4 617.5,487.7 603.3,487.5C589.1,487.3 579.7,486.4 570.0,486.0C560.3,485.6 554.2,485.8 545.0,485.0C535.8,484.2 525.2,482.6 515.0,481.5C504.8,480.4 494.6,479.5 483.8,478.4C473.0,477.3 460.9,476.1 450.0,475.0C439.1,473.9 428.9,472.8 418.1,471.9C407.3,471.0 395.9,470.2 385.0,469.5C374.1,468.8 360.8,467.9 352.5,467.5C344.2,467.1 340.5,467.2 335.0,467.0C329.5,466.8 324.2,467.0 319.7,466.4C315.2,465.8 311.6,464.6 308.0,463.5C304.4,462.4 300.8,461.0 297.8,459.8C294.8,458.6 292.4,457.6 290.0,456.5C287.6,455.4 284.7,453.8 283.6,453.3"/>
<path class="b" d="M299.0,453.3C297.5,453.1 292.8,452.5 290.0,452.3C287.2,452.1 282.7,450.9 282.5,452.2C282.3,453.5 286.6,457.4 289.0,460.0C291.4,462.6 295.4,466.2 296.7,467.5"/>
<path class="b" d="M337.2,486.2C337.8,485.5 339.3,482.6 340.9,482.0C342.5,481.4 345.3,481.5 346.6,482.5C347.9,483.5 349.4,485.8 348.9,488.1C348.4,490.5 345.9,493.9 343.7,496.6C341.5,499.3 336.6,502.4 335.8,504.1C335.0,505.8 336.7,506.4 339.1,506.9C341.5,507.4 348.4,506.9 350.3,506.9"/>
<path class="b" d="M362.5,488.1C361.4,488.6 357.3,488.7 355.9,490.9C354.5,493.1 353.6,498.4 354.1,501.2C354.6,504.0 356.7,506.9 358.7,507.8C360.7,508.8 364.5,508.3 366.2,506.9C367.9,505.5 368.9,502.1 369.1,499.4C369.3,496.7 368.3,492.8 367.2,490.9C366.1,489.0 363.3,488.6 362.5,488.1"/>
<path class="b" d="M378.4,490.5C377.5,491.0 374.1,491.8 372.8,493.7C371.6,495.6 370.4,499.6 370.9,502.2C371.4,504.8 373.7,508.3 375.6,509.2C377.5,510.1 380.6,509.4 382.2,507.8C383.8,506.2 385.3,502.0 385.5,499.4C385.7,496.8 384.8,493.8 383.6,492.3C382.4,490.8 379.3,490.8 378.4,490.5"/>
<path class="b" d="M403.7,492.8C403.6,494.8 403.3,501.1 403.2,505.0C403.1,508.9 402.9,514.3 402.8,516.2"/>
<path class="b" d="M402.8,493.7C403.6,493.3 405.7,490.9 407.5,491.4C409.3,491.9 412.7,494.2 413.6,496.6C414.5,499.0 414.1,502.9 413.1,505.9C412.1,508.9 409.2,512.7 407.5,514.4C405.8,516.1 403.6,515.9 402.8,516.2"/>
<path class="b" d="M421.6,493.7C421.2,495.6 420.1,501.4 419.5,505.0C418.9,508.6 418.1,513.6 417.8,515.3"/>
<path class="b" d="M430.0,498.9C429.0,499.7 425.9,502.0 424.0,503.5C422.1,505.0 418.2,506.2 418.7,507.8C419.2,509.4 424.3,511.3 427.0,513.0C429.7,514.7 433.4,517.2 434.7,518.1"/>
<path class="b" d="M486.9,502.4C486.8,504.3 486.4,510.2 486.1,514.0C485.9,517.8 485.5,523.5 485.4,525.4"/>
<path class="b" d="M486.1,515.8 L497.3,515.0"/>
<path class="b" d="M497.3,507.6C497.3,509.2 497.3,513.9 497.3,517.0C497.3,520.1 497.3,524.7 497.3,526.2"/>
<path class="b" d="M491.3,506.9C493.6,506.9 500.3,506.9 505.0,507.0C509.7,507.1 517.1,507.5 519.5,507.6"/>
<path class="b" d="M510.6,509.8C510.5,511.2 510.1,515.4 509.8,518.0C509.6,520.6 509.2,524.2 509.1,525.4"/>
<path class="b" d="M518.8,524.0 L525.5,510.6 L531.4,520.2 L537.3,509.8 L539.6,528.4"/>
<path class="b" d="M553.7,509.8C553.0,511.1 550.0,514.6 549.2,517.3C548.5,520.0 548.2,524.0 549.2,526.2C550.2,528.4 552.7,529.9 555.2,530.6C557.7,531.3 562.6,530.6 564.1,530.6"/>
<path class="b" d="M598.2,519.5C597.2,519.5 593.8,518.4 592.3,519.5C590.8,520.6 589.1,524.4 589.3,526.2C589.5,528.1 592.0,530.0 593.7,530.6C595.4,531.2 598.7,530.0 599.7,529.9"/>
<path class="b" d="M608.6,523.2C607.9,523.5 605.0,523.5 604.1,524.7C603.2,525.9 602.6,529.1 603.4,530.6C604.1,532.1 606.9,533.6 608.6,533.6C610.3,533.6 612.9,532.1 613.8,530.6C614.7,529.1 614.7,525.9 613.8,524.7C612.9,523.5 609.5,523.5 608.6,523.2"/>
<path class="b" d="M624.9,523.9C624.0,524.0 620.7,523.5 619.7,524.7C618.7,526.0 618.2,529.9 619.0,531.4C619.8,532.9 622.5,534.0 624.2,533.6C625.9,533.2 628.5,529.9 629.4,529.1"/>
<path class="b" d="M629.4,515.8C629.5,517.2 630.0,521.3 630.2,524.0C630.5,526.7 630.8,530.8 630.9,532.1"/>
<path class="b" d="M638.3,532.9C639.5,532.5 644.2,531.7 645.7,530.6C647.2,529.5 647.7,527.2 647.2,526.2C646.7,525.2 644.2,524.2 642.7,524.7C641.2,525.2 638.8,527.0 638.3,529.1C637.8,531.2 637.8,535.6 639.8,537.3C641.8,539.0 648.5,539.1 650.2,539.5"/>
<path class="b" d="M301.2,508.2C303.6,510.4 308.1,516.8 315.5,521.4C322.9,526.0 334.0,530.9 345.9,535.6C357.8,540.3 371.4,546.1 386.6,549.8C401.8,553.5 420.4,556.6 437.3,558.0C454.2,559.4 472.7,558.1 488.1,558.0C503.6,557.9 512.9,558.5 530.0,557.6C547.1,556.7 570.6,554.7 590.9,552.5C611.2,550.3 633.3,546.9 651.9,544.4C670.5,541.9 688.2,539.0 702.7,537.3C717.2,535.6 733.1,534.7 739.2,534.2"/>
<path class="b" d="M727.0,526.1C729.2,526.2 736.6,526.5 740.0,527.0C743.4,527.5 745.1,527.7 747.3,529.1C749.5,530.5 753.8,533.2 753.4,535.2C753.0,537.2 748.0,538.8 745.0,541.0C742.0,543.2 736.8,547.2 735.2,548.4"/>
<path class="b" d="M388.6,562.0C387.8,561.7 385.4,560.5 384.0,560.2C382.6,559.9 381.8,559.6 380.5,560.0C379.2,560.4 377.5,561.5 376.5,562.5C375.5,563.5 374.7,564.8 374.4,566.1C374.1,567.4 374.4,569.1 374.6,570.5C374.8,571.9 374.5,573.3 375.4,574.2C376.3,575.1 378.5,575.6 380.0,576.0C381.5,576.4 383.1,577.3 384.5,576.3C385.9,575.3 388.9,571.4 388.6,570.2C388.3,569.0 383.5,569.3 382.5,569.1"/>
<path class="b" d="M406.9,567.1C405.9,567.1 402.9,567.0 401.0,567.0C399.1,567.0 396.5,565.9 395.7,567.1C394.9,568.3 396.0,571.8 396.2,574.0C396.4,576.2 395.7,579.2 396.7,580.3C397.7,581.4 400.3,580.5 402.0,580.5C403.7,580.5 406.1,580.3 406.9,580.3"/>
<path class="b" d="M396.3,573.2 L404.8,573.2"/>
<path class="b" d="M411.0,571.2 L434.3,572.2"/>
<path class="b" d="M423.1,573.2C423.1,574.0 423.1,576.5 423.1,578.0C423.1,579.5 423.1,581.6 423.1,582.3"/>
<circle cx="467.8" cy="585.4" r="1.7" fill="#106dba"/>
<circle cx="483" cy="586.4" r="1.7" fill="#106dba"/>
<path class="b" style="stroke-width:3.6" d="M497.8,587.6L498.6,588.8"/>
<path class="b" d="M556.4,568.7 L545.2,588.0"/>
<path class="b" d="M577.1,574.8C575.7,574.7 570.5,573.4 568.6,574.4C566.7,575.4 564.5,579.6 565.5,580.9C566.5,582.2 573.5,580.8 574.7,582.0C575.9,583.2 574.6,587.2 572.7,588.0C570.8,588.8 565.0,587.2 563.5,587.0"/>
<path class="b" d="M580.8,568.7C580.9,570.2 581.1,575.0 581.3,578.0C581.5,581.0 581.7,585.5 581.8,587.0"/>
<path class="b" d="M575.7,576.9 L587.9,575.9"/>
<path class="b" d="M590.9,576.9C591.2,578.4 591.6,584.3 593.0,586.0C594.4,587.7 597.4,588.2 599.1,587.0C600.8,585.8 602.4,580.2 603.1,578.9M604.1,578.9C603.9,580.8 603.5,587.0 603.0,590.0C602.5,593.0 602.1,595.0 601.1,597.2C600.1,599.4 598.0,603.3 597.0,603.3C596.0,603.3 595.3,598.2 595.0,597.2"/>
<path class="b" d="M617.3,569.8C616.6,571.6 613.6,577.5 613.3,580.9C613.0,584.3 614.3,588.3 615.3,590.0C616.3,591.7 618.7,590.9 619.4,591.1"/>
<path class="b" d="M625.5,585.0C627.2,584.7 633.9,584.4 635.6,583.0C637.3,581.6 636.6,578.1 635.6,576.9C634.6,575.7 631.2,574.9 629.5,575.9C627.8,576.9 625.5,580.5 625.5,583.0C625.5,585.5 627.0,589.6 629.5,591.1C632.0,592.6 638.8,591.9 640.7,592.1"/>
<circle cx="646.8" cy="589" r="1.7" fill="#106dba"/>
<path class="b" d="M668.1,578.9C666.8,578.9 662.0,577.9 660.0,578.9C658.0,579.9 655.9,583.1 655.9,585.0C655.9,586.9 658.1,589.2 660.0,590.0C661.9,590.8 665.9,590.0 667.1,590.0"/>
<path class="b" d="M681.3,577.9C680.1,577.9 675.7,577.2 674.2,577.9C672.7,578.6 671.4,580.8 672.2,582.0C673.1,583.2 678.3,583.7 679.3,585.0C680.3,586.3 679.5,589.0 678.3,590.0C677.1,591.0 673.2,590.9 672.2,591.1"/>
<path class="b" d="M694.5,577.9C693.5,577.7 689.8,576.2 688.4,576.9C687.0,577.6 685.7,580.8 686.4,582.0C687.1,583.2 691.5,582.7 692.5,584.0C693.5,585.3 693.4,588.6 692.5,590.0C691.6,591.4 688.2,591.8 687.4,592.1"/>
<path class="b" d="M773.7,555.5C772.1,558.4 767.4,567.4 764.0,573.0C760.6,578.6 756.9,584.5 753.4,589.0C749.9,593.5 746.9,596.2 743.0,600.0C739.1,603.8 734.7,608.1 730.0,611.5C725.3,614.9 720.0,617.5 715.0,620.3C710.0,623.1 705.2,625.9 700.0,628.5C694.8,631.1 691.6,633.2 683.7,636.0C675.8,638.8 662.9,642.7 652.5,645.3C642.1,647.9 631.6,650.0 621.2,651.6C610.8,653.2 601.9,654.1 590.0,654.7C578.1,655.3 565.0,655.2 550.0,655.3C535.0,655.3 516.2,655.7 500.0,655.0C483.8,654.3 467.2,653.4 452.5,651.1C437.8,648.8 423.8,644.7 411.9,641.0C400.0,637.3 391.6,633.5 381.4,628.7C371.2,624.0 359.4,618.2 350.9,612.5C342.4,606.8 335.7,599.6 330.6,594.2C325.5,588.8 324.0,586.0 320.5,580.0C317.0,574.0 312.3,564.4 309.4,558.0C306.5,551.6 304.3,544.4 303.3,541.7"/>
<path class="b" d="M300.2,564.0C300.4,562.0 300.7,555.7 301.2,552.0C301.7,548.3 301.8,542.9 303.3,541.7C304.8,540.5 307.9,543.5 310.0,545.0C312.1,546.5 314.3,549.2 316.0,551.0C317.7,552.8 318.4,554.8 320.0,556.0C321.6,557.2 324.7,557.7 325.6,558.0"/>
<path class="b" d="M409.8,619.6C410.8,618.9 413.7,615.8 415.9,615.5C418.1,615.2 422.0,616.2 423.0,617.6C424.0,619.0 423.5,622.0 422.0,623.7C420.5,625.4 416.1,626.7 413.9,627.7C411.7,628.7 407.4,629.3 408.8,629.8C410.2,630.3 419.8,630.6 422.0,630.8"/>
<path class="b" d="M434.2,623.7C433.0,624.2 428.5,624.9 427.1,626.7C425.8,628.6 425.2,632.9 426.1,634.8C427.0,636.7 430.0,637.9 432.2,637.9C434.4,637.9 438.1,636.8 439.3,634.8C440.5,632.8 440.2,627.6 439.3,625.7C438.4,623.9 435.1,624.0 434.2,623.7"/>
<path class="b" d="M446.4,623.7C445.5,624.4 442.1,625.9 441.3,627.7C440.5,629.6 440.3,633.1 441.3,634.8C442.3,636.5 445.5,638.2 447.4,637.9C449.3,637.6 451.8,634.8 452.5,632.8C453.2,630.8 452.5,627.2 451.5,625.7C450.5,624.2 447.2,624.0 446.4,623.7"/>
<path class="b" d="M476.9,626.7C476.8,627.9 476.6,631.6 476.4,634.0C476.2,636.4 476.0,639.8 475.9,640.9"/>
<path class="b" d="M476.9,627.0C477.8,626.6 480.6,624.1 482.0,624.7C483.4,625.3 484.8,628.6 485.0,630.8C485.2,633.0 484.4,636.3 483.0,637.9C481.6,639.5 477.6,640.1 476.5,640.5"/>
<path class="b" d="M491.1,625.7C491.0,627.1 490.8,631.3 490.6,634.0C490.4,636.7 490.2,640.7 490.1,642.0"/>
<path class="b" d="M501.3,630.8C500.4,631.1 497.7,631.8 496.0,632.5C494.3,633.2 490.6,633.9 491.1,634.8C491.6,635.7 496.3,637.0 499.0,638.0C501.7,639.0 505.9,640.4 507.3,640.9"/>
<path class="b" d="M543.8,632.7C542.5,632.6 538.2,630.8 536.1,631.8C534.0,632.8 531.3,636.4 530.9,638.7C530.5,641.0 531.5,644.2 533.5,645.5C535.5,646.8 540.4,646.5 543.0,646.4C545.6,646.3 548.0,645.0 549.0,644.7"/>
<path class="b" d="M560.2,634.4C558.9,634.2 553.8,632.9 552.4,633.5C551.0,634.1 550.6,636.5 551.6,637.8C552.6,639.1 557.1,639.7 558.4,641.3C559.7,642.9 560.7,645.6 559.3,647.3C557.9,649.0 551.4,650.9 549.8,651.6"/>
<path class="b" d="M578.2,633.5C576.9,633.5 572.1,632.6 570.5,633.5C568.9,634.4 567.7,637.3 568.8,638.7C569.9,640.1 575.7,640.5 577.3,642.1C578.9,643.7 579.8,646.5 578.2,648.1C576.6,649.7 569.6,651.0 567.9,651.6"/>
<path class="b" d="M610.9,630.6C609.8,630.8 605.6,630.2 604.0,631.5C602.4,632.8 601.4,636.2 601.4,638.3C601.4,640.4 602.4,643.4 604.0,644.3C605.6,645.2 609.8,643.6 610.9,643.5"/>
<path class="b" d="M620.3,634.0C619.6,634.4 616.6,635.0 616.0,636.6C615.4,638.2 615.9,642.2 616.9,643.5C617.9,644.8 620.6,645.2 622.0,644.3C623.4,643.4 625.8,640.0 625.5,638.3C625.2,636.6 621.2,634.7 620.3,634.0"/>
<path class="b" d="M635.8,633.2C634.9,633.6 631.5,634.4 630.6,635.8C629.7,637.2 629.7,640.7 630.6,641.8C631.5,642.9 634.1,643.5 635.8,642.6C637.5,641.7 640.0,637.6 640.9,636.6"/>
<path class="b" d="M640.1,621.1C640.2,622.5 640.7,626.8 641.0,629.8C641.3,632.8 641.7,637.6 641.8,639.2"/>
<path class="b" d="M645.2,637.5C646.5,637.2 652.0,637.4 653.0,635.8C654.0,634.2 652.4,629.1 651.3,628.0C650.1,626.9 647.2,627.6 646.1,628.9C645.0,630.2 644.1,633.9 644.4,635.8C644.7,637.7 645.9,639.5 647.8,640.1C649.7,640.7 654.3,639.4 655.6,639.2"/>
<path class="b" d="M141.7,646.2C141.1,648.0 138.4,654.4 138.2,656.7C138.0,659.1 137.6,659.7 140.5,660.3C143.4,660.9 153.2,660.3 155.8,660.3"/>
<path class="b" d="M160.5,643.3C160.6,645.6 160.7,652.2 160.8,657.0C160.9,661.8 161.1,669.5 161.1,672.0"/>
<path class="b" d="M176.5,647.5C175.4,648.2 171.3,649.9 170.0,652.0C168.7,654.1 168.8,657.2 168.7,660.0C168.6,662.8 168.3,666.4 169.5,668.5C170.7,670.6 173.5,672.5 175.7,672.6C177.9,672.7 180.9,671.1 182.5,669.0C184.1,666.9 185.2,663.0 185.4,660.0C185.6,657.0 185.0,653.1 183.5,651.0C182.0,648.9 177.7,648.1 176.5,647.5"/>
<path class="b" d="M193.9,647.4C193.8,649.0 192.6,654.4 193.3,656.7C194.0,659.0 195.3,660.8 198.0,661.4C200.7,662.0 207.8,660.5 209.7,660.3"/>
<path class="b" d="M213.2,648.0C213.3,650.2 213.6,656.6 213.8,661.0C214.0,665.4 214.3,672.1 214.4,674.3"/>
<path class="b" d="M249.5,675.5C249.7,673.4 250.0,667.1 250.5,663.0C251.0,658.9 251.3,651.1 252.5,650.9C253.7,650.6 255.8,658.0 257.5,661.5C259.1,665.0 261.1,671.9 262.4,672.0C263.7,672.1 264.4,665.1 265.5,662.0C266.6,658.9 268.3,654.7 268.9,653.2"/>
<path class="b" d="M283.7,661.9C282.9,662.2 279.5,662.4 278.7,663.7C277.9,665.1 277.9,668.6 278.7,670.0C279.5,671.4 282.1,672.2 283.7,671.9C285.3,671.6 287.6,669.7 288.1,668.1C288.6,666.5 287.6,663.5 286.9,662.5C286.2,661.5 284.2,662.0 283.7,661.9"/>
<path class="b" d="M303.7,652.5C303.0,653.3 300.3,655.4 299.4,657.5C298.5,659.6 297.9,663.0 298.1,665.0C298.3,667.0 298.8,668.7 300.6,669.4C302.4,670.1 307.4,669.4 308.7,669.4"/>
<path class="b" d="M299.4,663.7 L308.7,663.1"/>
<path class="b" d="M341.7,653.9C341.1,654.2 338.8,654.4 337.8,655.8C336.8,657.2 336.3,659.8 335.9,662.1C335.5,664.5 335.1,668.1 335.5,669.9C335.9,671.7 337.3,672.6 338.6,673.0C339.9,673.4 342.5,672.3 343.3,672.2"/>
<path class="b" d="M337.0,665.2 L344.8,665.6"/>
<path class="b" d="M350.3,662.1C349.6,662.4 347.2,662.6 346.4,663.6C345.6,664.6 345.2,666.9 345.6,668.3C346.0,669.7 347.4,671.8 348.7,672.2C350.0,672.6 352.5,671.7 353.4,670.7C354.3,669.7 354.6,667.4 354.2,666.0C353.8,664.6 351.8,663.1 351.1,662.5C350.5,661.9 350.4,662.2 350.3,662.1"/>
<path class="b" d="M360.5,662.1C360.4,663.1 359.4,666.5 359.7,668.3C359.9,670.1 360.8,672.2 362.0,673.0C363.2,673.8 365.5,673.8 366.7,673.0C367.9,672.2 368.6,669.9 369.0,668.3C369.4,666.7 369.0,664.4 369.0,663.6M369.0,663.6C369.1,664.8 369.3,669.0 369.8,670.7C370.3,672.4 371.4,673.4 372.2,673.8C373.0,674.2 374.1,673.1 374.5,673.0"/>
<path class="b" d="M377.7,662.8C377.6,663.7 377.4,666.2 377.3,668.0C377.2,669.8 377.0,672.8 376.9,673.8M378.4,668.3C379.0,667.6 381.0,665.0 382.3,664.4C383.6,663.8 385.4,663.9 386.2,664.8C387.0,665.7 386.6,668.5 387.0,669.9C387.4,671.3 387.7,672.5 388.6,673.0C389.5,673.5 391.9,673.0 392.5,673.0"/>
<path class="b" d="M408.1,664.8C407.3,665.1 404.7,665.6 403.4,666.7C402.1,667.8 400.7,670.0 400.3,671.4C399.9,672.8 400.2,674.8 401.1,675.3C402.0,675.8 404.2,675.6 405.8,674.6C407.4,673.6 409.2,671.7 410.5,669.1C411.8,666.5 413.1,660.9 413.6,659.2M413.6,659.2C413.7,660.3 413.9,663.8 414.4,666.0C414.9,668.2 415.8,670.8 416.7,672.2C417.6,673.6 418.8,674.3 419.8,674.6C420.9,674.9 422.5,674.3 423.0,674.2"/>
<polygon points="142.9,373.2 206.8,360.7 213,393.3 149.2,406.5" fill="#2d2b31"/>
<polygon points="154,376 195,368.5 196.5,372 155,379.5" fill="#3b3a42"/>
<polygon points="158,392 194,385 194.5,387.5 158.5,394.5" fill="#403f47"/>
<circle cx="173.5" cy="382.3" r="2.4" fill="#2f80d0"/>
<rect x="176.5" y="380.3" width="6" height="1.6" fill="#8a8a95" transform="rotate(-11 176.5 380.3)"/>
<path class="n" d="M127.6,363.5C131.0,362.6 139.8,360.3 147.8,357.9C155.8,355.5 166.3,351.3 175.6,348.9C184.8,346.5 195.3,344.6 203.3,343.3C211.3,342.0 220.1,341.6 223.5,341.2"/>
<path class="n" d="M223.5,341.2C223.8,344.8 224.9,355.5 225.6,362.8C226.3,370.1 227.0,378.5 227.6,385.0C228.2,391.5 228.8,398.9 229.0,401.7"/>
<path class="n" d="M126.2,371.1C126.6,375.5 127.7,388.3 128.3,397.5C129.0,406.7 129.8,421.4 130.1,426.2"/>
<path class="n" d="M133.9,372.5C138.5,370.9 152.4,365.8 161.7,362.8C170.9,359.8 180.2,356.5 189.4,354.4C198.7,352.3 212.6,351.0 217.2,350.3"/>
<path class="n" d="M217.2,350.3C217.7,354.7 219.1,368.1 220.0,376.7C220.9,385.3 222.3,397.5 222.8,401.7"/>
<path class="n" d="M133.9,373.2C134.2,377.2 135.0,389.6 136.0,397.5C137.0,405.4 139.4,416.6 140.1,420.4"/>
<path class="n" d="M141.0,420.4C145.6,419.2 159.2,415.2 168.7,413.1C178.2,411.0 189.0,409.7 197.9,408.0C206.8,406.3 217.9,403.8 221.9,402.9"/>
<path class="n" d="M136.7,431.3C142.0,430.0 157.3,426.2 168.7,423.3C180.1,420.4 193.6,416.6 205.2,413.8C216.8,411.0 232.5,407.8 238.0,406.6"/>
<path class="n" d="M128.6,435.0C128.7,435.5 127.6,435.2 129.4,437.9C131.2,440.6 136.0,446.4 139.6,451.0C143.2,455.6 148.0,460.5 151.2,465.6C154.3,470.7 156.7,476.7 158.5,481.6C160.3,486.5 161.6,492.6 162.2,494.8"/>
<path class="n" d="M133.7,432.1C135.2,433.8 139.1,437.9 142.5,442.3C145.9,446.7 150.8,453.2 154.2,458.3C157.6,463.4 160.8,468.0 162.9,472.9C165.0,477.8 165.9,483.9 166.5,487.5C167.1,491.1 166.5,493.6 166.5,494.8"/>
<path class="n" d="M164.4,499.1C170.0,498.1 185.0,496.2 197.9,493.3C210.8,490.4 230.6,484.5 241.6,481.6C252.6,478.7 260.4,476.8 264.2,475.8"/>
<path class="n" d="M167.3,487.5C172.4,486.1 186.7,482.3 197.9,479.4C209.1,476.5 223.6,472.2 234.3,470.0C245.0,467.8 257.4,466.9 262.0,466.3"/>
<path class="n" d="M237.2,416.8C239.1,420.1 245.5,430.2 248.9,436.4C252.3,442.6 255.3,448.8 257.7,453.9C260.1,459.0 262.4,463.4 263.5,467.0C264.6,470.6 264.1,474.3 264.2,475.8"/>
<path class="n" d="M151.2,438.6C156.5,437.0 173.1,432.5 183.3,429.2C193.5,425.9 204.2,421.6 212.5,419.0C220.8,416.4 229.5,414.7 232.9,413.8"/>
<path class="n" d="M232.9,413.8C233.9,415.9 237.0,422.2 238.7,426.2C240.4,430.2 242.4,435.9 243.1,437.9"/>
<path class="n" d="M167.3,464.1C172.4,462.4 188.0,457.3 197.9,453.9C207.8,450.5 219.5,446.4 227.0,443.7C234.5,441.0 240.4,438.9 243.1,437.9"/>
<path class="n" d="M153.4,440.8C154.5,442.8 157.7,448.6 160.0,452.5C162.3,456.4 166.1,462.2 167.3,464.1"/>
<path class="n" d="M160.7,448.1C166.9,445.9 186.8,438.9 197.9,435.0C209.0,431.1 219.9,427.0 227.0,424.8C234.1,422.6 238.0,422.4 240.2,421.9"/>
<path class="n" d="M170.2,456.1C174.8,454.5 188.4,450.1 197.9,446.6C207.4,443.1 219.7,437.9 227.0,435.0C234.3,432.1 239.2,430.2 241.6,429.2"/>
<path class="n" d="M167.3,439.4C168.2,440.9 170.8,445.5 172.5,448.5C174.2,451.5 176.7,456.1 177.5,457.6"/>
<path class="n" d="M181.9,431.3C182.8,433.1 185.3,438.5 187.0,442.0C188.7,445.5 191.2,450.8 192.1,452.5"/>
<path class="n" d="M196.4,424.1C197.1,426.0 199.2,431.8 200.5,435.5C201.8,439.2 203.8,444.8 204.4,446.6"/>
<path class="n" d="M211.0,419.0C211.8,420.8 214.3,426.4 216.0,430.0C217.7,433.6 220.3,439.0 221.2,440.8"/>
<path class="n" d="M225.6,417.5C226.2,419.4 228.3,425.1 229.5,429.0C230.7,432.9 232.3,438.8 232.9,440.8"/>
<path class="n" d="M197.9,458.3C200.1,457.6 207.8,454.4 211.0,453.9C214.2,453.4 215.1,453.6 216.8,455.4C218.5,457.2 221.9,462.7 221.2,464.9C220.5,467.1 215.7,467.4 212.5,468.5C209.3,469.6 204.6,471.9 202.3,471.4C200.0,470.9 199.3,467.8 198.6,465.6C197.9,463.4 198.0,459.5 197.9,458.3"/>
<path class="r" d="M135.6,513.7C135.0,513.9 132.5,514.0 131.9,515.0C131.3,516.0 131.3,518.9 131.9,520.0C132.5,521.1 134.5,522.1 135.6,521.9C136.7,521.7 138.4,520.0 138.7,518.7C139.0,517.5 138.0,515.2 137.5,514.4C137.0,513.6 135.9,513.8 135.6,513.7"/>
<path class="r" d="M135.6,521.9C134.8,522.4 131.3,523.5 130.6,525.0C129.9,526.5 130.3,529.6 131.2,530.6C132.1,531.6 134.9,531.9 136.2,531.2C137.4,530.5 138.8,527.8 138.7,526.2C138.6,524.7 136.1,522.6 135.6,521.9"/>
<path class="r" d="M143.1,515.6C143.2,517.0 143.7,521.1 144.0,524.0C144.3,526.9 144.8,531.6 145.0,533.1"/>
<circle cx="153.1" cy="534.4" r="1.8" fill="#b5121b"/>
<path class="r" d="M160.6,520.0C161.2,519.5 163.1,517.2 164.4,516.9C165.8,516.6 167.9,517.2 168.7,518.1C169.5,519.0 170.0,520.8 169.4,522.5C168.8,524.2 166.4,526.5 165.0,528.1C163.6,529.7 160.4,531.3 161.2,531.9C162.0,532.5 168.1,532.0 170.0,531.9C171.9,531.8 172.1,531.3 172.5,531.2"/>
<path class="r" d="M176.2,516.9C175.6,517.6 173.1,519.0 172.5,521.2C171.9,523.4 171.7,528.2 172.5,530.0C173.3,531.8 175.8,532.3 177.5,531.9C179.2,531.5 181.7,529.7 182.5,527.5C183.3,525.3 183.6,520.5 182.5,518.7C181.4,516.9 177.2,517.2 176.2,516.9"/>
<path class="r" d="M206.2,518.7C205.0,518.6 201.3,518.4 199.0,518.3C196.7,518.2 193.6,518.1 192.5,518.1M192.5,518.1C192.4,518.8 192.3,520.8 192.2,522.0C192.1,523.2 191.9,525.0 191.9,525.6M191.9,525.6C192.8,525.3 195.9,523.5 197.5,523.7C199.1,523.9 201.0,525.5 201.2,526.9C201.4,528.3 200.6,531.0 198.7,531.9C196.8,532.8 191.4,532.4 190.0,532.5"/>
<circle cx="208.7" cy="535.6" r="1.8" fill="#b5121b"/>
<path class="r" d="M225.0,518.7C224.2,519.5 221.1,521.6 220.0,523.7C218.9,525.8 218.3,529.3 218.7,531.2C219.1,533.1 221.0,534.8 222.5,535.0C224.0,535.2 226.8,533.8 227.5,532.5C228.2,531.2 227.8,528.2 226.9,527.5C226.0,526.8 222.7,528.0 221.9,528.1"/>
<path class="r" d="M232.5,520.0C233.2,519.6 235.6,517.5 236.9,517.5C238.2,517.5 240.3,518.8 240.6,520.0C240.9,521.2 239.5,524.0 238.7,525.0C237.9,526.0 235.4,525.7 235.6,526.2C235.8,526.7 239.2,526.9 240.0,528.1C240.8,529.4 241.1,532.2 240.6,533.7C240.1,535.2 238.2,536.6 236.9,536.9C235.7,537.2 233.7,535.8 233.1,535.6"/>
<circle cx="249.4" cy="535" r="1.8" fill="#b5121b"/>
<path class="r" d="M256.9,523.1C257.5,522.6 259.2,520.3 260.6,520.0C262.1,519.7 264.8,520.3 265.6,521.2C266.4,522.1 266.3,524.1 265.6,525.6C264.9,527.1 262.4,528.8 261.2,530.0C259.9,531.2 257.5,532.6 258.1,533.1C258.7,533.6 262.6,533.1 265.0,533.1C267.4,533.1 271.2,533.1 272.5,533.1"/>
</svg>
</div></body></html>
